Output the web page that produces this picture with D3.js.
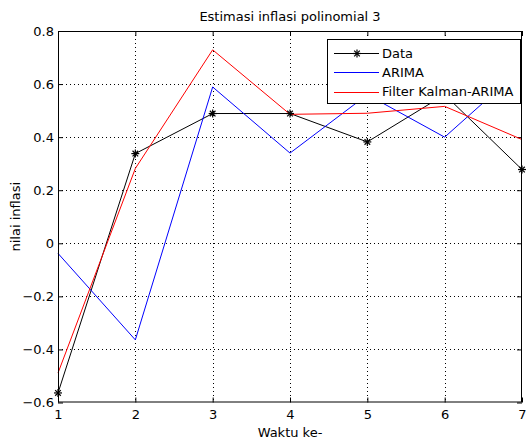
<!DOCTYPE html>
<html><head><meta charset="utf-8">
<script src="https://cdn.jsdelivr.net/npm/d3@7"></script>
<style>body{margin:0;background:#fff}svg{display:block}text{font-family:"DejaVu Sans",sans-serif;fill:#000}</style>
</head><body>
<script>
const waktu = [1, 2, 3, 4, 5, 6, 7];
const dataAktual = [-0.564, 0.338, 0.489, 0.489, 0.382, 0.56, 0.278];
const arima = [-0.038, -0.364, 0.589, 0.34, 0.56, 0.40, 0.66];
const kalman = [-0.489, 0.282, 0.729, 0.486, 0.49, 0.516, 0.391];
const xTicks = [1, 2, 3, 4, 5, 6, 7];
const yTicks = [-0.6, -0.4, -0.2, 0, 0.2, 0.4, 0.6, 0.8];
const seriesNames = ["Data", "ARIMA", "Filter Kalman-ARIMA"];
const seriesColors = ["#000000", "#0000ff", "#ff0000"];

const W = 528, H = 441;
const L = 58, R = 522, T = 31, B = 402.5;
const FS = "13px";
const svg = d3.select("body").append("svg").attr("width", W).attr("height", H);
const x = d3.scaleLinear().domain([1, 7]).range([L, R]);
const y = d3.scaleLinear().domain([-0.6, 0.8]).range([B, T]);
const fmt = d => (d === 0 ? "0" : d3.format(".1f")(d));

// grid
const grid = svg.append("g");
grid.selectAll("line.gx").data(xTicks.slice(1, -1)).join("line").attr("class", "gx")
  .attr("x1", d => Math.round(x(d)) + 0.5).attr("x2", d => Math.round(x(d)) + 0.5)
  .attr("y1", T).attr("y2", B)
  .attr("stroke", "#000").attr("stroke-dasharray", "1,3").attr("stroke-width", 1);
grid.selectAll("line.gy").data(yTicks.slice(1, -1)).join("line").attr("class", "gy")
  .attr("y1", d => Math.round(y(d)) + 0.5).attr("y2", d => Math.round(y(d)) + 0.5)
  .attr("x1", L).attr("x2", R)
  .attr("stroke", "#000").attr("stroke-dasharray", "1,3").attr("stroke-width", 1);

// axes with inward ticks
const tl = 5;
const axB = svg.append("g").attr("transform", `translate(0,${B})`)
  .call(d3.axisBottom(x).tickValues(xTicks).tickSizeInner(-tl).tickSizeOuter(0).tickPadding(7.5).tickFormat(d3.format("d")));
const axT = svg.append("g").attr("transform", `translate(0,${T})`)
  .call(d3.axisTop(x).tickValues(xTicks).tickSizeInner(-tl).tickSizeOuter(0).tickFormat(""));
const axL = svg.append("g").attr("transform", `translate(${L},0)`)
  .call(d3.axisLeft(y).tickValues(yTicks).tickSizeInner(-tl).tickSizeOuter(0).tickPadding(4).tickFormat(fmt));
const axR = svg.append("g").attr("transform", `translate(${R},0)`)
  .call(d3.axisRight(y).tickValues(yTicks).tickSizeInner(-tl).tickSizeOuter(0).tickFormat(""));
[axB, axT, axL, axR].forEach(a => {
  a.select(".domain").remove();
  a.selectAll("text").style("font-size", FS).attr("fill", "#000").attr("font-family", null).style("font-family", '"DejaVu Sans",sans-serif');
  a.selectAll("line").attr("stroke", "#000");
});
axB.selectAll("text").attr("dy", "0.73em");

// series lines
const line = d3.line().x((d, i) => x(waktu[i])).y(d => y(d));
const allSeries = [dataAktual, arima, kalman];
const plot = svg.append("g");
allSeries.forEach((s, k) => {
  plot.append("path").datum(s).attr("d", line).attr("fill", "none")
    .style("stroke", seriesColors[k]).attr("stroke-width", 1);
});
function star(sel, cx, cy, r) {
  const gg = sel.append("g").style("stroke", "#000").attr("stroke-width", 1.2);
  gg.append("line").attr("x1", cx - r).attr("x2", cx + r).attr("y1", cy).attr("y2", cy);
  gg.append("line").attr("x1", cx).attr("x2", cx).attr("y1", cy - r).attr("y2", cy + r);
  const q = r * 0.7;
  gg.append("line").attr("x1", cx - q).attr("x2", cx + q).attr("y1", cy - q).attr("y2", cy + q);
  gg.append("line").attr("x1", cx - q).attr("x2", cx + q).attr("y1", cy + q).attr("y2", cy - q);
}
dataAktual.forEach((d, i) => star(plot, x(waktu[i]), y(d), 4));

// frame
svg.append("rect").attr("x", L + 0.5).attr("y", T + 0.5).attr("width", R - L - 1).attr("height", B - T - 1)
  .attr("fill", "none").style("stroke", "#000").attr("stroke-width", 1);

// legend
const lg = svg.append("g");
lg.append("rect").attr("x", 327.5).attr("y", 39.5).attr("width", 193).attr("height", 64)
  .style("fill", "#fff").style("stroke", "#000");
seriesNames.forEach((n, k) => {
  const ly = 53 + k * 19.3;
  lg.append("line").attr("x1", 334).attr("x2", 379).attr("y1", Math.round(ly) + 0.5).attr("y2", Math.round(ly) + 0.5)
    .style("stroke", seriesColors[k]).attr("stroke-width", 1);
  if (k === 0) star(lg, 357, Math.round(ly) + 0.5, 4);
  lg.append("text").attr("x", 382).attr("y", ly).attr("dy", "0.36em").style("font-size", FS).text(n);
});

// title and labels
svg.append("text").attr("x", (L + R) / 2).attr("y", 21).attr("text-anchor", "middle").style("font-size", FS)
  .text("Estimasi inflasi polinomial 3");
svg.append("text").attr("x", (L + R) / 2).attr("y", 437).attr("text-anchor", "middle").style("font-size", FS)
  .text("Waktu ke-");
svg.append("text").attr("transform", `translate(20,${(T + B) / 2}) rotate(-90)`).attr("text-anchor", "middle")
  .style("font-size", FS).text("nilai inflasi");
</script>
</body></html>
